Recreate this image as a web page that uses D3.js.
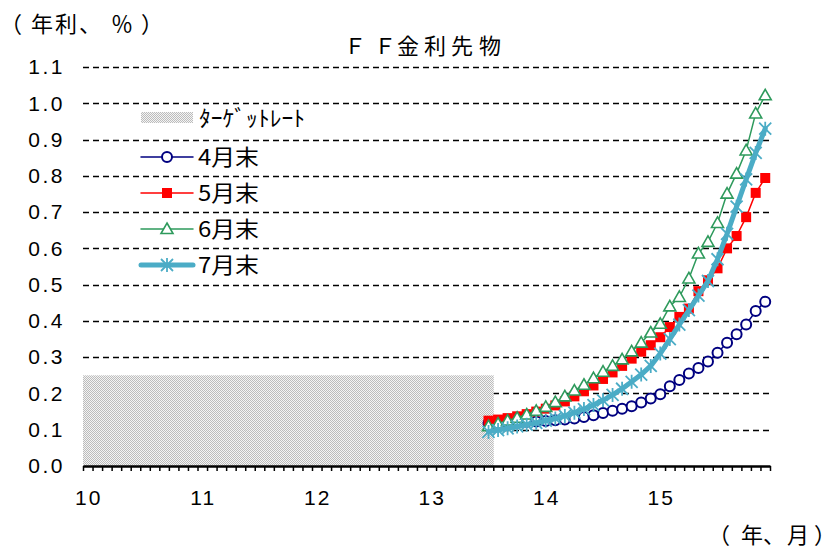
<!DOCTYPE html>
<html>
<head>
<meta charset="utf-8">
<script src="https://cdn.jsdelivr.net/npm/d3@7"></script>
<style>
  html, body { margin: 0; padding: 0; background: #fff; }
  svg { display: block; }
  text { font-family: "Liberation Sans", Arial, "Noto Sans CJK JP", sans-serif; fill: #000; }
  .jp { font-family: "Noto Sans CJK JP", "Liberation Sans", sans-serif; }
</style>
</head>
<body>
<svg id="chart" width="837" height="550"></svg>
<script>
// Monthly categories, Jan 2010 .. Dec 2015
const months = d3.range(0, 72).map(i => {
  const y = 2010 + Math.floor(i / 12), m = (i % 12) + 1;
  return `${y}-${String(m).padStart(2, "0")}`;
});
const yearLabels = ["10", "11", "12", "13", "14", "15"];

// Fed funds target (upper bound), Jan 2010 .. Jul 2013
const targetRate = d3.range(0, 43).map(() => 0.25);

// Futures-implied rates, Jul 2013 .. Dec 2015 (30 contract months)
const futuresStart = 42;
const apr = [0.118, 0.119, 0.120, 0.121, 0.122, 0.123, 0.124, 0.126, 0.128, 0.131,
             0.135, 0.140, 0.146, 0.152, 0.158, 0.165, 0.175, 0.186, 0.198, 0.220,
             0.237, 0.255, 0.270, 0.288, 0.312, 0.340, 0.363, 0.390, 0.427, 0.453];
const may = [0.125, 0.128, 0.132, 0.137, 0.143, 0.150, 0.158, 0.167, 0.178, 0.192,
             0.206, 0.222, 0.240, 0.258, 0.276, 0.296, 0.315, 0.333, 0.355, 0.383,
             0.411, 0.434, 0.482, 0.512, 0.545, 0.600, 0.634, 0.686, 0.753, 0.794];
const jun = [0.110, 0.117, 0.125, 0.133, 0.142, 0.152, 0.163, 0.176, 0.192, 0.208,
             0.224, 0.242, 0.260, 0.276, 0.294, 0.316, 0.340, 0.368, 0.392, 0.440,
             0.466, 0.517, 0.586, 0.618, 0.670, 0.751, 0.806, 0.870, 0.972, 1.022];
const jul = [0.094, 0.099, 0.104, 0.109, 0.114, 0.119, 0.125, 0.131, 0.138, 0.147,
             0.157, 0.168, 0.181, 0.196, 0.213, 0.232, 0.252, 0.276, 0.310, 0.350,
             0.390, 0.430, 0.470, 0.510, 0.570, 0.640, 0.715, 0.790, 0.863, 0.930];

const yTicks = d3.range(0, 12).map(i => +(i / 10).toFixed(1));

const svg = d3.select("#chart");
const plot = { left: 83, right: 770, top: 67, bottom: 466 };

const x = d3.scaleBand().domain(months).range([plot.left, plot.right]).padding(0);
const xEdge = d3.scaleLinear().domain([0, months.length]).range([plot.left, plot.right]);
const y = d3.scaleLinear().domain([0, 1.1]).range([plot.bottom, plot.top]);
const cx = i => x(months[i]) + x.bandwidth() / 2;

// Fine gray checker used for the target-rate columns
const defs = svg.append("defs");
const pat = defs.append("pattern").attr("id", "dots")
  .attr("width", 2).attr("height", 2).attr("patternUnits", "userSpaceOnUse");
pat.append("rect").attr("width", 2).attr("height", 2).attr("fill", "#f4f4f4");
pat.append("rect").attr("x", 0).attr("y", 0).attr("width", 1).attr("height", 1).attr("fill", "#bcbcbc");
pat.append("rect").attr("x", 1).attr("y", 1).attr("width", 1).attr("height", 1).attr("fill", "#bcbcbc");

// Dashed horizontal gridlines
svg.append("g").selectAll("line").data(yTicks.filter(v => v > 0)).join("line")
  .attr("x1", plot.left).attr("x2", plot.right)
  .attr("y1", d => Math.round(y(d)) + 0.5).attr("y2", d => Math.round(y(d)) + 0.5)
  .attr("stroke", "#000").attr("stroke-width", 1.5).attr("stroke-dasharray", "6,4");

// Target-rate columns (gap width 0)
svg.append("g").selectAll("rect").data(targetRate).join("rect")
  .attr("x", (d, i) => x(months[i]))
  .attr("width", x.bandwidth() + 0.5)
  .attr("y", d => y(d))
  .attr("height", d => y(0) - y(d))
  .attr("fill", "url(#dots)");

// Y axis labels
const yAxis = d3.axisLeft(y).tickValues(yTicks).tickFormat(d3.format(".1f")).tickSize(0).tickPadding(18);
const gy = svg.append("g").attr("transform", `translate(${plot.left},0)`).call(yAxis);
gy.select(".domain").remove();
gy.selectAll("text").attr("font-size", 21).attr("font-family", "Liberation Sans, Arial, sans-serif")
  .attr("letter-spacing", 2.5);

// X axis line with monthly tick marks
const xAxis = d3.axisBottom(xEdge).tickValues(d3.range(0, months.length + 1)).tickSize(5).tickSizeOuter(0).tickFormat("");
const gx = svg.append("g").attr("transform", `translate(0,${plot.bottom})`).call(xAxis);
gx.select(".domain").attr("stroke-width", 2.5);
gx.selectAll(".tick line").attr("stroke-width", 1.5);

// Year labels under January of each year
const janMonths = months.filter(m => m.endsWith("-01"));
const xLab = d3.axisBottom(x).tickValues(janMonths).tickSize(0).tickPadding(24)
  .tickFormat((d, i) => yearLabels[i]);
const gl = svg.append("g").attr("transform", `translate(1,${plot.bottom})`).call(xLab);
gl.select(".domain").remove();
gl.selectAll("text").attr("font-size", 21).attr("font-family", "Liberation Sans, Arial, sans-serif")
  .attr("letter-spacing", 2);

// Series definitions
const series = [
  { name: "4月末", values: apr, color: "#000080", width: 1.5, marker: "circle" },
  { name: "5月末", values: may, color: "#ff0000", width: 1.5, marker: "square" },
  { name: "6月末", values: jun, color: "#2e9a5c", width: 1.5, marker: "triangle" },
  { name: "7月末", values: jul, color: "#4bacc6", width: 5, marker: "star" }
];

function drawMarker(g, kind, color) {
  if (kind === "circle") {
    g.append("circle").attr("r", 5).attr("fill", "#fff").attr("stroke", color).attr("stroke-width", 2);
  } else if (kind === "square") {
    g.append("rect").attr("x", -5).attr("y", -5).attr("width", 10).attr("height", 10).attr("fill", color);
  } else if (kind === "triangle") {
    g.append("path").attr("d", "M0,-6L6,4.5L-6,4.5Z").attr("fill", "#fff").attr("stroke", color).attr("stroke-width", 1.6);
  } else if (kind === "star") {
    g.append("path").attr("d", "M0,-7L0,7M-6,-6L6,6M-6,6L6,-6")
      .attr("stroke", color).attr("stroke-width", 1.8).attr("fill", "none");
  }
}

const line = d3.line().x(d => cx(d.i)).y(d => y(d.v));
series.forEach(s => {
  const pts = s.values.map((v, k) => ({ i: futuresStart + k, v }));
  const g = svg.append("g");
  g.append("path").datum(pts).attr("d", line)
    .attr("fill", "none").attr("stroke", s.color).attr("stroke-width", s.width)
    .attr("stroke-linejoin", "round").attr("stroke-linecap", "round");
  g.selectAll("g.m").data(pts).join("g").attr("class", "m")
    .attr("transform", d => `translate(${cx(d.i)},${y(d.v)})`)
    .each(function () { drawMarker(d3.select(this), s.marker, s.color); });
});

// Legend
const legend = svg.append("g");
const lx0 = 141, lx1 = 193, ltx = 199;
legend.append("rect").attr("x", lx0).attr("y", 112).attr("width", lx1 - lx0).attr("height", 11).attr("fill", "url(#dots)");
legend.append("text").attr("class", "jp").attr("x", ltx).attr("y", 118).attr("dy", "0.35em")
  .attr("font-size", 22).attr("textLength", 106).attr("lengthAdjust", "spacingAndGlyphs").text("ﾀｰｹﾞｯﾄﾚｰﾄ");
series.forEach((s, k) => {
  const ly = 157 + k * 36;
  legend.append("line").attr("x1", lx0).attr("x2", lx1).attr("y1", ly).attr("y2", ly)
    .attr("stroke", s.color).attr("stroke-width", s.width).attr("stroke-linecap", "round");
  const mg = legend.append("g").attr("transform", `translate(${(lx0 + lx1) / 2},${ly})`);
  drawMarker(mg, s.marker, s.color);
  legend.append("text").attr("class", "jp").attr("x", ltx - 1).attr("y", ly).attr("dy", "0.35em")
    .attr("font-size", 22).attr("textLength", 61).attr("lengthAdjust", "spacingAndGlyphs").text(s.name);
});

// Titles and unit captions, set glyph by glyph (proportional spacing)
function spacedText(str, xs, yPos, size) {
  svg.append("text").attr("class", "jp")
    .attr("x", xs.join(" ")).attr("y", yPos).attr("dy", "0.35em")
    .attr("font-size", size).text(str);
}
spacedText("ＦＦ金利先物", [344, 374, 397, 424, 451, 479], 46, 22);
spacedText("（年利、％）", [0, 31, 55, 79, 111, 141], 24, 22);
spacedText("（年、月）", [708, 741, 763, 787, 814], 535, 22);
</script>
</body>
</html>
